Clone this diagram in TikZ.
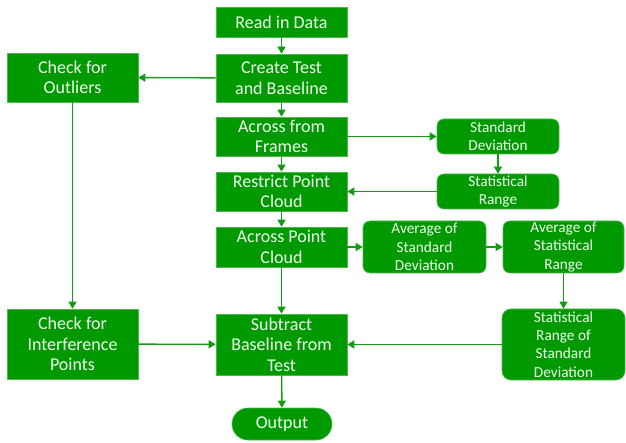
\documentclass[tikz,border=0pt]{standalone}
\usepackage{fontspec}
\setmainfont{Carlito}
\usetikzlibrary{arrows.meta}
\definecolor{gfill}{RGB}{0,153,0}
\definecolor{gline}{RGB}{20,155,20}
\definecolor{gtext}{RGB}{240,255,240}
\begin{document}
\begin{tikzpicture}[x=1pt,y=-1pt,
  base/.style={fill=gfill,draw=gfill!70!white,line width=0.6pt,text=gtext,align=center,inner sep=0pt},
  bigbox/.style={base,font=\fontsize{18}{20.5}\selectfont},
  smallbox/.style={base,rounded corners=7pt,font=\fontsize{15.3}{18.4}\selectfont},
  conn/.style={draw=gline,line width=1.4pt,-{Triangle[length=7pt,width=8pt]}}]
\useasboundingbox (0,0) rectangle (626,443);
\node[bigbox,minimum width=131pt,minimum height=30pt] (read) at (281.5,22) {Read in Data};
\node[bigbox,minimum width=131pt,minimum height=48pt] (create) at (281.5,78) {Create Test\\and Baseline};
\node[bigbox,minimum width=131pt,minimum height=39pt] (frames) at (281.5,136.5) {Across from\\Frames};
\node[bigbox,minimum width=131pt,minimum height=39pt] (restrict) at (281.5,191.5) {Restrict Point\\Cloud};
\node[bigbox,minimum width=131pt,minimum height=40pt] (apc) at (281.5,247) {Across Point\\Cloud};
\node[bigbox,minimum width=131pt,minimum height=61pt] (sub) at (281.5,344.5) {Subtract\\Baseline from\\Test};
\node[bigbox,rounded corners=16pt,minimum width=100pt,minimum height=32pt] (out) at (282,424) {Output};
\node[bigbox,minimum width=131pt,minimum height=49pt] (outl) at (72.5,77.5) {Check for\\Outliers};
\node[bigbox,minimum width=131pt,minimum height=70pt] (intf) at (72.5,344) {Check for\\Interference\\Points};
\node[smallbox,minimum width=122pt,minimum height=35pt] (sd) at (498,136.5) {Standard\\Deviation};
\node[smallbox,minimum width=122pt,minimum height=35pt] (sr) at (498,191.5) {Statistical\\Range};
\node[smallbox,minimum width=123pt,minimum height=52pt] (avgsd) at (424.5,247) {Average of\\Standard\\Deviation};
\node[smallbox,minimum width=121pt,minimum height=52pt] (avgsr) at (563.5,247) {Average of\\Statistical\\Range};
\node[smallbox,rounded corners=9pt,minimum width=123pt,minimum height=71pt] (srsd) at (563.5,344.5) {Statistical\\Range of\\Standard\\Deviation};
\draw[conn] (read) -- (create);
\draw[conn] (create) -- (frames);
\draw[conn] (frames) -- (restrict);
\draw[conn] (restrict) -- (apc);
\draw[conn] (apc) -- (sub);
\draw[conn] (sub) -- (out);
\draw[conn] (create) -- (outl);
\draw[conn] (outl) -- (intf);
\draw[conn] (intf) -- (sub);
\draw[conn] (frames) -- (sd);
\draw[conn] (sd) -- (sr);
\draw[conn] (sr) -- (restrict);
\draw[conn] (apc) -- (avgsd);
\draw[conn] (avgsd) -- (avgsr);
\draw[conn] (avgsr) -- (srsd);
\draw[conn] (srsd) -- (sub);
\end{tikzpicture}
\end{document}
